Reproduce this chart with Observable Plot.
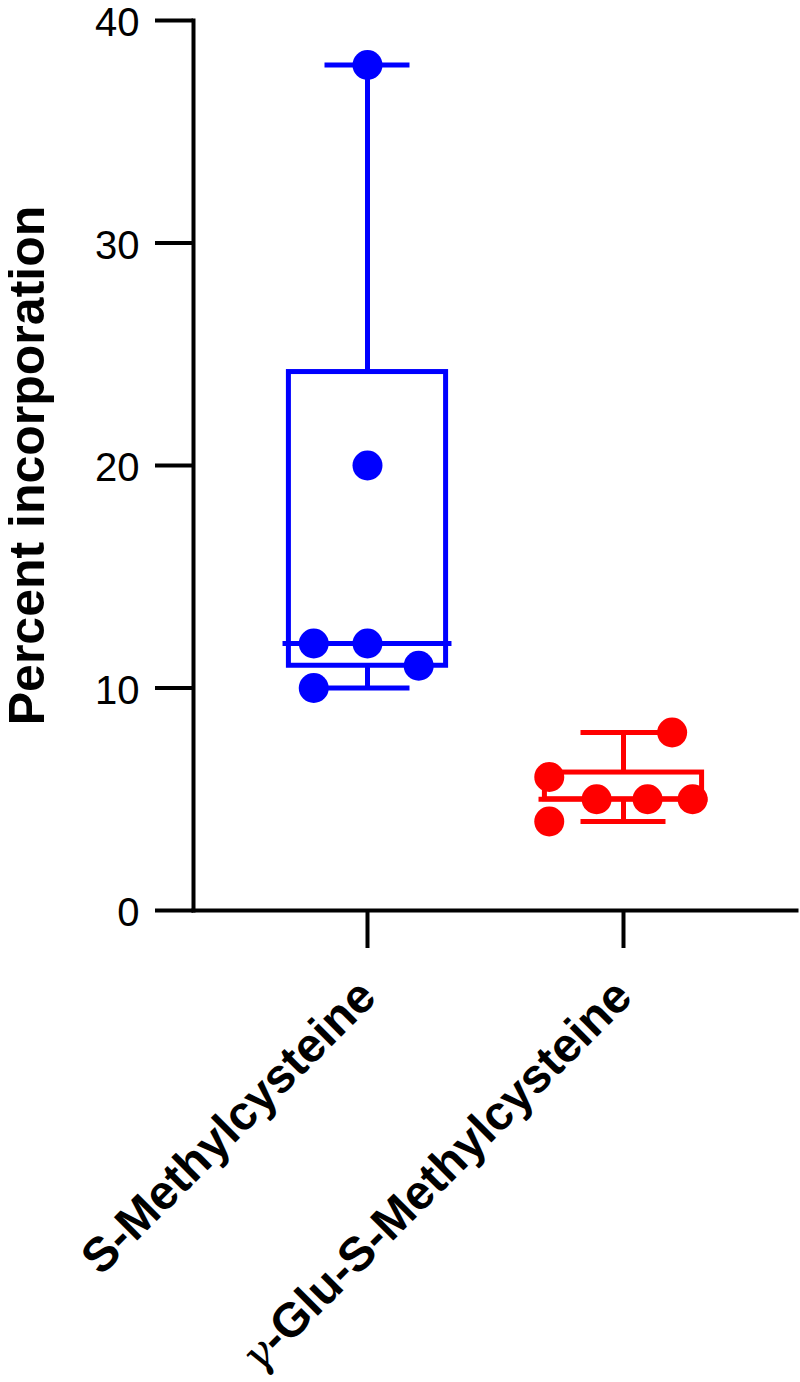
<!DOCTYPE html>
<html><head><meta charset="utf-8">
<script src="https://cdn.jsdelivr.net/npm/d3@7"></script>
<script src="https://cdn.jsdelivr.net/npm/@observablehq/plot@0.6"></script>
<style>body{margin:0;background:#fff;}</style>
</head><body><div id="chart"></div>
<script>
// ---- data ----
const categories = ["S-Methylcysteine", "γ-Glu-S-Methylcysteine"];
const categoryPos = [1, 2];
const whiskerMin = [10, 4];
const quartile1 = [11, 5];
const medians = [12, 5];
const quartile3 = [24.2, 6.2];
const whiskerMax = [38, 8];
const smcValues = [38, 20, 12, 12, 11, 10];
const smcJitter = [0, 0, -0.21, 0, 0.2, -0.21];
const gluValues = [8, 6, 5, 5, 5, 4];
const gluJitter = [0.19, -0.29, -0.105, 0.094, 0.27, -0.29];
const yTicks = [0, 10, 20, 30, 40];
const yLabel = "Percent incorporation";

const boxes = categories.map((c, i) => ({
  cat: c, x: categoryPos[i], min: whiskerMin[i], q1: quartile1[i],
  median: medians[i], q3: quartile3[i], max: whiskerMax[i]
}));
const points = [
  ...smcValues.map((v, i) => ({cat: categories[0], x: categoryPos[0], jitter: smcJitter[i], value: v})),
  ...gluValues.map((v, i) => ({cat: categories[1], x: categoryPos[1], jitter: gluJitter[i], value: v}))
];

const BOX = 0.307, MED = 0.33, CAP = 0.166, SW = 5;
const font = "'Liberation Sans', Arial, Helvetica, sans-serif";

const chart = Plot.plot({
  width: 800, height: 1382,
  marginLeft: 193, marginRight: 4, marginTop: 20, marginBottom: 472,
  style: {fontFamily: font, background: "#fff", color: "#000"},
  x: {domain: [0.3203, 2.6758], axis: null},
  y: {domain: [0, 40], axis: null},
  color: {domain: categories, range: ["#0000ff", "#ff0000"]},
  marks: [
    Plot.rect(boxes, {x1: d => d.x - BOX, x2: d => d.x + BOX, y1: "q1", y2: "q3", fill: "none", stroke: "cat", strokeWidth: SW}),
    Plot.ruleY(boxes, {x1: d => d.x - MED, x2: d => d.x + MED, y: "median", stroke: "cat", strokeWidth: SW}),
    Plot.ruleX(boxes, {x: "x", y1: "q3", y2: "max", stroke: "cat", strokeWidth: SW}),
    Plot.ruleX(boxes, {x: "x", y1: "min", y2: "q1", stroke: "cat", strokeWidth: SW}),
    Plot.ruleY(boxes, {x1: d => d.x - CAP, x2: d => d.x + CAP, y: "max", stroke: "cat", strokeWidth: SW}),
    Plot.ruleY(boxes, {x1: d => d.x - CAP, x2: d => d.x + CAP, y: "min", stroke: "cat", strokeWidth: SW}),
    Plot.dot(points, {x: d => d.x + d.jitter, y: "value", r: 15, fill: "cat", stroke: "none"}),
    Plot.axisY({ticks: yTicks, tickSize: 38, tickFormat: () => "", strokeWidth: 4, label: null}),
    Plot.text(yTicks, {y: d => d, text: d => String(d), frameAnchor: "left", textAnchor: "end",
                       dx: -54, dy: 3, fontSize: 40, fill: "#000"}),
    Plot.frame({anchor: "left", strokeWidth: 4, stroke: "#000"}),
    Plot.frame({anchor: "bottom", strokeWidth: 4, stroke: "#000"}),
    Plot.axisX({ticks: categoryPos, tickFormat: i => categories[i - 1], tickSize: 38, tickPadding: 40,
                tickRotate: -45, fontSize: 48, fontWeight: "bold", strokeWidth: 4, label: null}),
    Plot.text([yLabel], {frameAnchor: "left", textAnchor: "middle", dx: -166, rotate: -90, fontSize: 50, fontWeight: "bold", fill: "#000"})
  ]
});
document.getElementById("chart").appendChild(chart);

// style the gamma as an italic serif symbol
d3.select(chart).selectAll("text").each(function() {
  if (this.textContent === categories[1]) {
    const t = d3.select(this);
    t.selectAll("*").remove();
    t.text(null);
    t.append("tspan").attr("font-family", "'DejaVu Serif', 'Liberation Serif', serif")
      .attr("font-style", "italic").attr("font-weight", "normal").attr("font-size", 44).text("γ");
    t.append("tspan").text(categories[1].slice(1));
  }
});
</script>
</body></html>
